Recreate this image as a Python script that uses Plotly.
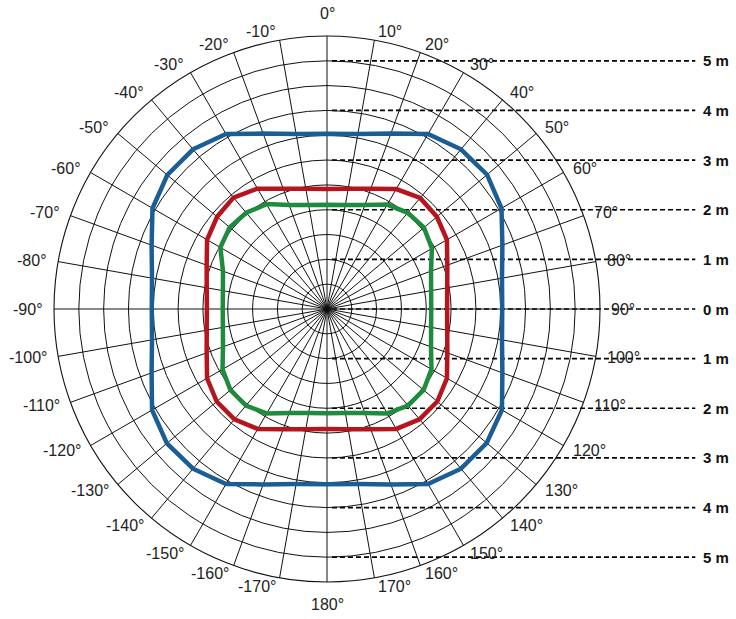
import math
import plotly.graph_objects as go

# Angles (degrees, clockwise from top)
angles = list(range(0, 360, 10))
angle_labels = [f"{a}°" if a <= 180 else f"-{360 - a}°" for a in angles]

# Detection ranges (m) read at each 10° spoke
blue_r = [3.53, 3.58, 3.76, 4.07, 4.20, 4.21, 4.06, 3.76, 3.58,
          3.53, 3.58, 3.76, 4.07, 4.20, 4.20, 4.07, 3.76, 3.58,
          3.53, 3.58, 3.76, 4.07, 4.20, 4.21, 4.07, 3.76, 3.58,
          3.53, 3.58, 3.76, 4.06, 4.20, 4.20, 4.07, 3.76, 3.58]
red_r = [2.42, 2.46, 2.58, 2.79, 2.92, 2.89, 2.79, 2.58, 2.46,
         2.42, 2.46, 2.58, 2.79, 2.90, 2.90, 2.79, 2.58, 2.46,
         2.42, 2.46, 2.58, 2.79, 2.90, 2.90, 2.79, 2.58, 2.46,
         2.42, 2.46, 2.58, 2.79, 2.89, 2.93, 2.80, 2.58, 2.46]
green_r = [2.10, 2.13, 2.23, 2.43, 2.53, 2.55, 2.44, 2.23, 2.13,
           2.10, 2.13, 2.23, 2.43, 2.54, 2.54, 2.43, 2.23, 2.13,
           2.10, 2.13, 2.23, 2.43, 2.54, 2.54, 2.43, 2.23, 2.13,
           2.10, 2.13, 2.23, 2.48, 2.56, 2.53, 2.44, 2.23, 2.13]

# Distance scale on the right
scale_levels = [5, 4, 3, 2, 1, 0, -1, -2, -3, -4, -5]
scale_labels = ["5 m", "4 m", "3 m", "2 m", "1 m", "0 m", "1 m", "2 m", "3 m", "4 m", "5 m"]

W, H = 736, 619
cx, cy = 327, 309
R = 273
R_MAX = 5.5
px_per_m = R / R_MAX

fig = go.Figure()

# Dashed scale lines (cartesian overlay aligned with polar scale)
for lv in scale_levels:
    fig.add_trace(go.Scatter(
        x=[0.1, 7.42], y=[lv, lv], mode="lines",
        line=dict(color="black", width=1.7, dash="5px,3px"),
        showlegend=False, hoverinfo="skip", xaxis="x", yaxis="y"))

for lv, lab in zip(scale_levels, scale_labels):
    fig.add_annotation(x=7.53, y=lv, xref="x", yref="y", text=f"<b>{lab}</b>",
                       showarrow=False, xanchor="left", yanchor="middle",
                       font=dict(size=15, color="#111", family="Liberation Sans, Arial"))

# Angle labels placed just outside the outer polygon
for a, lab in zip(angles, angle_labels):
    t = math.radians(a)
    s, c = math.sin(t), math.cos(t)
    if a in (0, 180):
        rl = R_MAX + 12 / px_per_m
        xa, ya = "center", ("bottom" if a == 0 else "top")
    else:
        rl = R_MAX + 9 / px_per_m
        xa = "left" if s > 0 else "right"
        ya = "middle"
    fig.add_annotation(x=rl * s, y=rl * c, xref="x", yref="y", text=lab,
                       showarrow=False, xanchor=xa, yanchor=ya,
                       font=dict(size=16, color="#222", family="Liberation Sans, Arial"))

def closed(v):
    return v + [v[0]]

for rr, col in [(blue_r, "#1b5e96"), (red_r, "#b8141d"), (green_r, "#1f8b3c")]:
    fig.add_trace(go.Scatterpolar(
        r=closed(rr), theta=closed(angles), mode="lines",
        line=dict(color=col, width=4.5), showlegend=False, hoverinfo="skip"))

x0 = (cx - R) / W
x1 = (cx + R) / W
y0 = (H - cy - R) / H
y1 = (H - cy + R) / H

fig.update_layout(
    width=W, height=H,
    margin=dict(l=0, r=0, t=0, b=0),
    paper_bgcolor="white", plot_bgcolor="rgba(0,0,0,0)",
    font=dict(family="Liberation Sans, Arial", size=16, color="#222"),
    xaxis=dict(domain=[0, 1], range=[-cx / px_per_m, (W - cx) / px_per_m],
               visible=False, fixedrange=True),
    yaxis=dict(domain=[0, 1], range=[-(H - cy) / px_per_m, cy / px_per_m],
               visible=False, fixedrange=True),
    polar=dict(
        domain=dict(x=[x0, x1], y=[y0, y1]),
        bgcolor="rgba(0,0,0,0)",
        gridshape="linear",
        radialaxis=dict(range=[0, R_MAX], tick0=0, dtick=0.5, showticklabels=False,
                        ticks="", showline=False, gridcolor="#111", gridwidth=1.1),
        angularaxis=dict(rotation=90, direction="clockwise", tickmode="array",
                         tickvals=angles, ticktext=angle_labels, showticklabels=False,
                         ticks="", showline=True, linecolor="#111", linewidth=1.1,
                         gridcolor="#111", gridwidth=1.1),
    ),
)

fig.write_html("out.html", config={"displayModeBar": False},
               post_script="document.body.style.margin='0';")
